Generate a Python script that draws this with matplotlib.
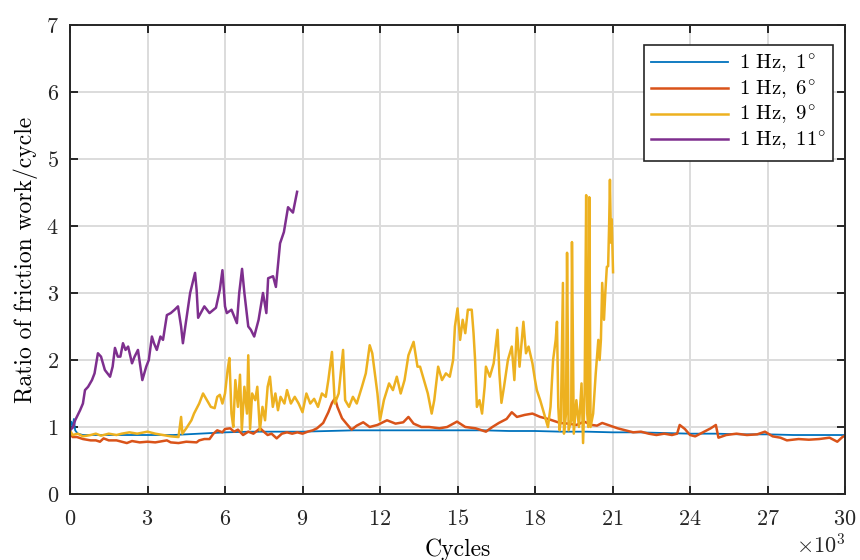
import numpy as np
import matplotlib
matplotlib.use("Agg")
import matplotlib.pyplot as plt

plt.rcParams['font.family'] = 'serif'
plt.rcParams['font.serif'] = ['cmr10']
plt.rcParams['mathtext.fontset'] = 'cm'
plt.rcParams['axes.formatter.use_mathtext'] = True

# cycles in thousands, ratio of friction work per cycle
x_1deg = [0, 0.05, 0.1, 0.15, 0.2, 0.3, 0.5, 1, 2, 3, 4, 5, 6, 7, 8, 9, 10, 11, 12, 13, 14, 15,
          16, 17, 18, 19, 20, 21, 22, 23, 24, 25, 26, 27, 28, 29, 30]
y_1deg = [1.02, 1.08, 0.98, 1.12, 0.95, 0.9, 0.88, 0.88, 0.88, 0.88, 0.88, 0.9, 0.92, 0.93, 0.93,
          0.93, 0.94, 0.95, 0.95, 0.95, 0.95, 0.95, 0.95, 0.94, 0.94, 0.93, 0.93, 0.92, 0.92, 0.91,
          0.9, 0.9, 0.89, 0.89, 0.88, 0.88, 0.88]

x_6deg = [0.0, 0.1, 0.27, 0.5, 0.8, 1.0, 1.16, 1.3, 1.5, 1.8, 2.0, 2.2, 2.4, 2.7, 3.0, 3.3, 3.6,
          3.75, 3.9, 4.2, 4.5, 4.9, 5.0, 5.2, 5.4, 5.55, 5.7, 5.9, 6.0, 6.2, 6.35, 6.5, 6.7, 6.9,
          7.1, 7.36, 7.5, 7.65, 7.8, 8.0, 8.2, 8.4, 8.6, 8.8, 9.0, 9.2, 9.4, 9.56, 9.8, 10.0,
          10.14, 10.26, 10.35, 10.53, 10.7, 10.9, 11.1, 11.35, 11.6, 11.9, 12.27, 12.6, 12.9,
          13.1, 13.3, 13.6, 13.9, 14.3, 14.6, 14.98, 15.3, 15.7, 16.1, 16.35, 16.6, 16.9, 17.1,
          17.3, 17.6, 17.9, 18.2, 18.5, 18.97, 19.3, 19.6, 19.9, 20.2, 20.4, 20.6, 20.9, 21.2,
          21.5, 21.8, 22.1, 22.4, 22.7, 23.0, 23.3, 23.5, 23.6, 23.8, 24.0, 24.2, 24.5, 24.8,
          25.0, 25.1, 25.4, 25.8, 26.2, 26.6, 26.9, 27.2, 27.5, 27.75, 28.2, 28.6, 29.0, 29.4,
          29.7, 29.9, 30.0]
y_6deg = [0.92, 0.85, 0.85, 0.82, 0.8, 0.8, 0.78, 0.83, 0.8, 0.8, 0.78, 0.76, 0.79, 0.77, 0.78,
          0.77, 0.79, 0.8, 0.77, 0.76, 0.78, 0.77, 0.8, 0.82, 0.82, 0.9, 0.95, 0.92, 0.97, 0.98,
          0.93, 0.96, 0.88, 0.93, 0.9, 0.98, 0.93, 0.88, 0.9, 0.83, 0.9, 0.92, 0.9, 0.92, 0.9,
          0.93, 0.95, 0.98, 1.06, 1.22, 1.36, 1.43, 1.3, 1.13, 1.05, 0.96, 1.02, 1.07, 1.0, 1.03,
          1.1, 1.05, 1.07, 1.15, 1.05, 1.0, 1.0, 0.98, 1.0, 1.08, 1.0, 0.98, 0.93, 1.0, 1.06,
          1.12, 1.22, 1.15, 1.18, 1.2, 1.15, 1.12, 1.06, 1.05, 1.03, 1.08, 1.03, 1.02, 1.06,
          1.02, 0.98, 0.95, 0.92, 0.93, 0.9, 0.88, 0.9, 0.88, 0.9, 1.03, 0.97, 0.88, 0.86, 0.92,
          0.98, 1.03, 0.84, 0.88, 0.9, 0.88, 0.89, 0.93, 0.86, 0.84, 0.8, 0.82, 0.81, 0.82, 0.84,
          0.78, 0.85, 0.87]

x_9deg = [0.0, 0.1, 0.3, 0.5, 0.8, 1.0, 1.2, 1.5, 1.8, 2.0, 2.3, 2.6, 3.0, 3.3, 3.6, 3.9, 4.2,
          4.3, 4.35, 4.5, 4.7, 4.8, 5.0, 5.15, 5.3, 5.45, 5.6, 5.7, 5.8, 5.9, 6.0, 6.1, 6.17,
          6.25, 6.32, 6.4, 6.5, 6.58, 6.65, 6.75, 6.85, 6.9, 6.97, 7.05, 7.17, 7.25, 7.35, 7.45,
          7.55, 7.65, 7.74, 7.85, 7.95, 8.05, 8.15, 8.3, 8.4, 8.55, 8.7, 8.85, 9.0, 9.15, 9.3,
          9.45, 9.6, 9.75, 9.9, 10.0, 10.14, 10.25, 10.4, 10.57, 10.65, 10.8, 10.95, 11.1, 11.3,
          11.45, 11.6, 11.7, 11.8, 11.9, 12.0, 12.15, 12.35, 12.5, 12.65, 12.8, 12.95, 13.1,
          13.3, 13.45, 13.55, 13.7, 13.85, 14.0, 14.1, 14.25, 14.4, 14.55, 14.7, 14.83, 14.9,
          15.0, 15.1, 15.2, 15.3, 15.4, 15.55, 15.62, 15.68, 15.75, 15.85, 15.95, 16.05, 16.1,
          16.25, 16.4, 16.55, 16.62, 16.7, 16.8, 16.95, 17.1, 17.2, 17.3, 17.4, 17.55, 17.65,
          17.75, 17.9, 18.0, 18.07, 18.2, 18.35, 18.5, 18.6, 18.7, 18.8, 18.85, 18.9, 18.95,
          19.0, 19.08, 19.12, 19.2, 19.24, 19.3, 19.4, 19.43, 19.5, 19.6, 19.7, 19.8, 19.86,
          19.92, 19.98, 20.02, 20.06, 20.1, 20.15, 20.25, 20.35, 20.45, 20.5, 20.55, 20.6,
          20.67, 20.72, 20.78, 20.83, 20.87, 20.9, 20.94, 20.97, 21.02]
y_9deg = [0.95, 0.88, 0.9, 0.86, 0.88, 0.9, 0.87, 0.9, 0.88, 0.9, 0.92, 0.9, 0.93, 0.9, 0.88,
          0.86, 0.85, 1.15, 0.9, 0.98, 1.1, 1.2, 1.35, 1.5, 1.4, 1.3, 1.28, 1.45, 1.48, 1.35,
          1.5, 1.85, 2.03, 1.2, 1.0, 1.7, 1.3, 1.78, 0.95, 1.6, 1.2, 2.07, 0.97, 1.5, 1.4, 1.6,
          0.95, 1.3, 1.1, 1.6, 1.75, 1.3, 1.5, 1.25, 1.45, 1.35, 1.55, 1.35, 1.45, 1.35, 1.22,
          1.5, 1.35, 1.42, 1.3, 1.5, 1.45, 1.7, 2.12, 1.35, 1.5, 2.15, 1.4, 1.3, 1.45, 1.35, 1.6,
          1.8, 2.22, 2.1, 1.8, 1.5, 1.1, 1.4, 1.65, 1.55, 1.75, 1.5, 1.7, 2.07, 2.27, 1.9, 1.9,
          1.7, 1.5, 1.2, 1.4, 1.9, 1.7, 1.8, 1.75, 2.0, 2.5, 2.77, 2.3, 2.6, 2.4, 2.75, 2.75,
          2.4, 2.0, 1.3, 1.4, 1.2, 1.6, 1.9, 1.75, 1.95, 2.45, 1.8, 1.36, 1.6, 2.0, 2.2, 1.7,
          2.48, 1.9, 2.57, 2.1, 2.2, 1.95, 1.7, 1.55, 1.4, 1.2, 1.0, 1.3, 2.0, 2.3, 2.57, 1.3,
          0.95, 1.1, 3.15, 0.9, 1.2, 3.6, 0.95, 1.1, 3.76, 0.9, 1.4, 1.0, 1.65, 0.76, 1.5, 4.46,
          1.2, 1.0, 4.43, 1.0, 1.2, 1.8, 2.3, 2.0, 2.3, 3.15, 2.6, 3.0, 3.39, 3.4, 4.04, 4.69,
          3.75, 4.1, 3.31]

x_11deg = [0.0, 0.12, 0.2, 0.39, 0.5, 0.58, 0.7, 0.85, 0.95, 1.08, 1.2, 1.35, 1.55, 1.65, 1.74,
           1.85, 1.95, 2.05, 2.15, 2.25, 2.4, 2.5, 2.63, 2.8, 2.95, 3.05, 3.17, 3.25, 3.36, 3.5,
           3.6, 3.75, 3.9, 4.05, 4.18, 4.3, 4.37, 4.5, 4.65, 4.84, 4.9, 4.96, 5.2, 5.4, 5.65,
           5.8, 5.9, 6.0, 6.07, 6.25, 6.46, 6.55, 6.66, 6.75, 6.9, 7.0, 7.13, 7.3, 7.47, 7.6,
           7.67, 7.86, 7.97, 8.13, 8.28, 8.44, 8.63, 8.79]
y_11deg = [0.95, 1.0, 1.1, 1.25, 1.35, 1.55, 1.6, 1.7, 1.8, 2.1, 2.05, 1.85, 1.75, 1.9, 2.18,
           2.05, 2.05, 2.25, 2.15, 2.2, 1.95, 2.05, 2.15, 1.7, 1.9, 2.0, 2.35, 2.25, 2.15, 2.35,
           2.3, 2.67, 2.7, 2.75, 2.8, 2.5, 2.25, 2.6, 3.0, 3.3, 3.05, 2.63, 2.8, 2.7, 2.78, 3.05,
           3.34, 2.8, 2.7, 2.75, 2.55, 3.0, 3.36, 3.0, 2.5, 2.45, 2.35, 2.6, 3.0, 2.7, 3.22,
           3.25, 3.09, 3.74, 3.91, 4.28, 4.2, 4.51]

labels = [r'$\mathrm{1\ Hz,\ 1^{\circ}}$', r'$\mathrm{1\ Hz,\ 6^{\circ}}$',
          r'$\mathrm{1\ Hz,\ 9^{\circ}}$', r'$\mathrm{1\ Hz,\ 11^{\circ}}$']

fig = plt.figure(figsize=(8.6, 5.6), dpi=100)
ax = fig.add_axes([0.0814, 0.1179, 0.9012, 0.8375])

ax.plot(np.array(x_1deg) * 1000, y_1deg, color='#0072BD', lw=1.3, label=labels[0])
ax.plot(np.array(x_6deg) * 1000, y_6deg, color='#D95319', lw=1.8, label=labels[1])
ax.plot(np.array(x_9deg) * 1000, y_9deg, color='#EDB120', lw=1.8, label=labels[2])
ax.plot(np.array(x_11deg) * 1000, y_11deg, color='#7E2F8E', lw=1.8, label=labels[3])

ax.set_xlim(0, 30000)
ax.set_ylim(0, 7)
ax.set_xticks(np.arange(0, 30001, 3000))
ax.set_yticks(np.arange(0, 8, 1))
ax.ticklabel_format(axis='x', style='sci', scilimits=(3, 3), useMathText=True)
ax.xaxis.get_offset_text().set_fontsize(16)

ax.grid(True, color='#dcdcdc', lw=1.4)
ax.set_axisbelow(True)
for s in ax.spines.values():
    s.set_color('#262626')
    s.set_linewidth(1.4)
ax.tick_params(direction='in', length=6, width=1.4, top=True, right=True,
               labelsize=16, colors='#262626')
ax.tick_params(axis='x', pad=11)
ax.tick_params(axis='y', pad=8)

ax.set_xlabel('Cycles', fontsize=17, labelpad=7)
ax.set_ylabel('Ratio of friction work/cycle', fontsize=17, labelpad=6)

leg = ax.legend(loc='upper right', bbox_to_anchor=(0.9686, 0.9196), bbox_transform=fig.transFigure,
                borderaxespad=0, fontsize=15, handlelength=3.7, handletextpad=0.5,
                labelspacing=0.12, borderpad=0.35,
                fancybox=False, framealpha=1, edgecolor='#262626')
leg.get_frame().set_linewidth(1.2)

fig.savefig('out.png', dpi=100)
